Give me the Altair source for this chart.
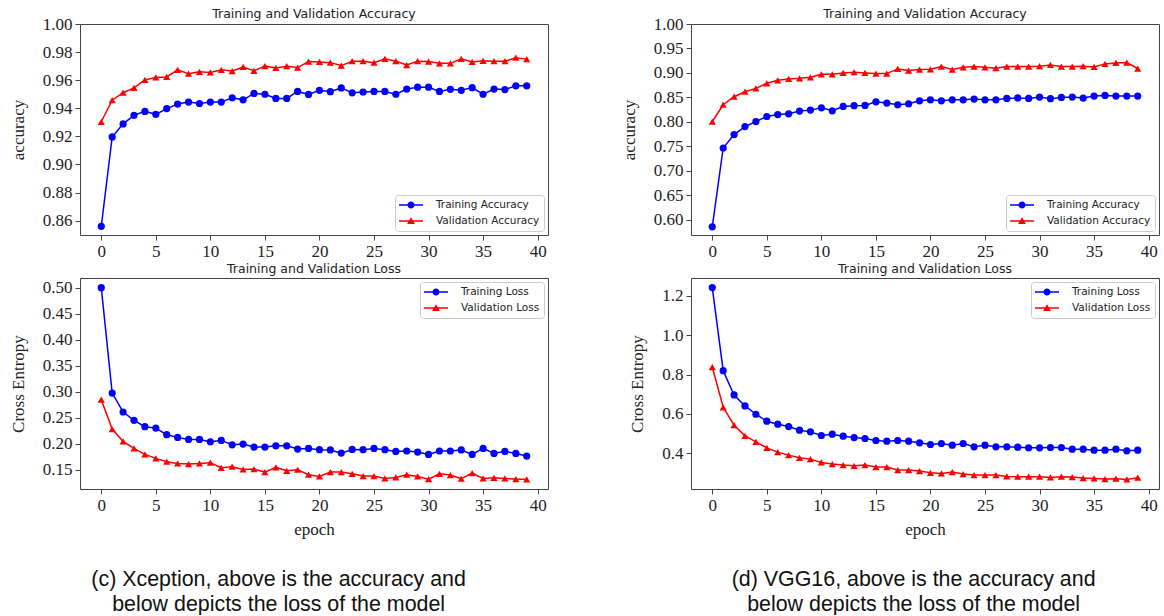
import altair as alt
import pandas as pd

epochs = list(range(40))

xc_train_acc = [0.856, 0.9196, 0.9289, 0.935, 0.9378, 0.9357, 0.9398, 0.943, 0.9444, 0.9434,
                0.9444, 0.9444, 0.9475, 0.946, 0.9506, 0.950, 0.947, 0.947, 0.952, 0.9499,
                0.9528, 0.9518, 0.9545, 0.951, 0.9516, 0.952, 0.952, 0.950, 0.9537, 0.955,
                0.955, 0.952, 0.9535, 0.9528, 0.9547, 0.950, 0.9537, 0.9533, 0.956, 0.956]
xc_val_acc = [0.9304, 0.9458, 0.9511, 0.9545, 0.9602, 0.962, 0.9623, 0.9674, 0.9646, 0.966,
              0.9655, 0.9674, 0.9665, 0.9694, 0.9667, 0.970, 0.9687, 0.970, 0.969, 0.9733,
              0.973, 0.9725, 0.9704, 0.9735, 0.9735, 0.9725, 0.9752, 0.9735, 0.9708, 0.9735,
              0.9733, 0.972, 0.972, 0.9752, 0.973, 0.9738, 0.9735, 0.9735, 0.976, 0.975]
xc_train_loss = [0.50, 0.2974, 0.261, 0.2449, 0.2327, 0.230, 0.2173, 0.2122, 0.2083, 0.2083,
                 0.2038, 0.2064, 0.198, 0.1994, 0.1936, 0.1936, 0.196, 0.196, 0.1897, 0.191,
                 0.1885, 0.188, 0.182, 0.189, 0.1885, 0.191, 0.1885, 0.1853, 0.186, 0.184,
                 0.1795, 0.186, 0.186, 0.188, 0.1795, 0.191, 0.1814, 0.1853, 0.1814, 0.1763]
xc_val_loss = [0.2846, 0.2282, 0.2045, 0.191, 0.1795, 0.1718, 0.1654, 0.1622, 0.161, 0.1622,
               0.1635, 0.1538, 0.1558, 0.1506, 0.1513, 0.1455, 0.1545, 0.148, 0.150, 0.1404,
               0.1372, 0.1455, 0.1455, 0.1423, 0.1378, 0.1378, 0.1333, 0.1353, 0.1404, 0.1372,
               0.132, 0.1423, 0.1397, 0.1327, 0.1436, 0.1333, 0.1346, 0.1333, 0.132, 0.1314]

vgg_train_acc = [0.5856, 0.7466, 0.774, 0.7904, 0.8007, 0.811, 0.815, 0.8164, 0.822, 0.824,
                 0.8288, 0.8226, 0.8315, 0.833, 0.8336, 0.841, 0.8384, 0.835, 0.837, 0.843,
                 0.845, 0.843, 0.845, 0.845, 0.8466, 0.845, 0.845, 0.848, 0.849, 0.848,
                 0.8507, 0.8473, 0.85, 0.8507, 0.8486, 0.8527, 0.854, 0.8527, 0.8527, 0.8527]
vgg_val_acc = [0.8007, 0.835, 0.8514, 0.8616, 0.8685, 0.8788, 0.885, 0.8877, 0.889, 0.891,
               0.8973, 0.8973, 0.900, 0.9014, 0.900, 0.8986, 0.8986, 0.9082, 0.9048, 0.907,
               0.9075, 0.913, 0.907, 0.9116, 0.913, 0.9116, 0.9096, 0.913, 0.913, 0.913,
               0.9137, 0.9164, 0.913, 0.913, 0.9137, 0.9123, 0.9185, 0.9205, 0.9212, 0.909]
vgg_train_loss = [1.2404, 0.8194, 0.6964, 0.6408, 0.5987, 0.5634, 0.5482, 0.5364, 0.518, 0.5095,
                  0.491, 0.4977, 0.4876, 0.4808, 0.4758, 0.4657, 0.4623, 0.4657, 0.4623, 0.454,
                  0.4455, 0.4505, 0.442, 0.4505, 0.4337, 0.442, 0.4337, 0.4337, 0.432, 0.4286,
                  0.4286, 0.4303, 0.4303, 0.4219, 0.4219, 0.4168, 0.4168, 0.4219, 0.4135, 0.4168]
vgg_val_loss = [0.8379, 0.6341, 0.5432, 0.4893, 0.459, 0.4286, 0.4067, 0.3916, 0.3781, 0.3714,
                0.3545, 0.3461, 0.341, 0.3377, 0.341, 0.3309, 0.3309, 0.3158, 0.3158, 0.3107,
                0.3023, 0.2989, 0.3057, 0.2956, 0.2905, 0.2905, 0.2905, 0.2838, 0.2821, 0.2821,
                0.2821, 0.2787, 0.2821, 0.2804, 0.2754, 0.2737, 0.2703, 0.272, 0.2686, 0.2771]

x_ticks = [0, 5, 10, 15, 20, 25, 30, 35, 40]
caption_c = ["(c) Xception, above is the accuracy and", "below depicts the loss of the model"]
caption_d = ["(d) VGG16, above is the accuracy and", "below depicts the loss of the model"]

BLUE = "#0000ff"
RED = "#ff0000"
SERIF = "Liberation Serif"
SANS = "DejaVu Sans"

# legend symbols: short line with marker (unit box -1..1 scaled by sqrt(size)/2)
LEG_CIRCLE = ("M0.58,0A0.58,0.58 0 1,1 -0.58,0A0.58,0.58 0 1,1 0.58,0Z "
              "M-2,-0.12L2,-0.12L2,0.12L-2,0.12Z")
LEG_TRI = ("M0,-0.62L0.66,0.5L-0.66,0.5Z "
           "M-2,-0.12L2,-0.12L2,0.12L-2,0.12Z")

W, H = 468, 211


def panel(train, val, names, ydom, yticks, yfmt, ytitle, title, legend_orient, show_xtitle,
          title_offset):
    df = pd.DataFrame({
        "epoch": epochs + epochs,
        "value": train + val,
        "series": [names[0]] * len(train) + [names[1]] * len(val),
    })
    xscale = alt.Scale(domain=[-1.95, 40.95], nice=False, zero=False)
    xaxis = alt.Axis(values=x_ticks, format="d")
    if show_xtitle:
        x = alt.X("epoch:Q", title="epoch", scale=xscale, axis=xaxis)
    else:
        x = alt.X("epoch:Q", title=None, scale=xscale, axis=xaxis)
    y = alt.Y("value:Q", title=ytitle,
              scale=alt.Scale(domain=ydom, nice=False, zero=False),
              axis=alt.Axis(values=yticks, format=yfmt))
    cscale = alt.Scale(domain=names, range=[BLUE, RED])
    leg = alt.Legend(title=None, orient=legend_orient, offset=4,
                     fillColor="white", strokeColor="#cccccc", cornerRadius=3,
                     padding=4, rowPadding=4, symbolSize=144, symbolOffset=6,
                     labelOffset=19, symbolOpacity=1, symbolStrokeWidth=0,
                     labelFont=SANS, labelFontSize=10.5, labelColor="#222222")
    legend_layer = alt.Chart(df).mark_point(filled=True, opacity=0, size=1).encode(
        x=x, y=y,
        color=alt.Color("series:N", scale=cscale, legend=leg),
        shape=alt.Shape("series:N", scale=alt.Scale(domain=names, range=[LEG_CIRCLE, LEG_TRI]),
                        legend=leg),
    )
    lines = alt.Chart(df).mark_line(strokeWidth=1.5).encode(
        x=x, y=y, color=alt.Color("series:N", scale=cscale, legend=None))
    pts_train = alt.Chart(df).transform_filter(alt.datum.series == names[0]).mark_point(
        filled=True, shape="circle", size=52, opacity=1).encode(
        x=x, y=y, color=alt.Color("series:N", scale=cscale, legend=None))
    pts_val = alt.Chart(df).transform_filter(alt.datum.series == names[1]).mark_point(
        filled=True, shape="triangle-up", size=52, opacity=1).encode(
        x=x, y=y, color=alt.Color("series:N", scale=cscale, legend=None))
    return alt.layer(legend_layer, lines, pts_train, pts_val).properties(
        width=W, height=H,
        title=alt.TitleParams(title, font=SANS, fontSize=12.5, fontWeight="normal",
                              color="#222222", offset=title_offset, anchor="middle",
                              frame="group"),
    )


acc_names = ["Training Accuracy", "Validation Accuracy"]
loss_names = ["Training Loss", "Validation Loss"]

p1 = panel(xc_train_acc, xc_val_acc, acc_names, [0.8498, 1.0],
           [0.86, 0.88, 0.90, 0.92, 0.94, 0.96, 0.98, 1.00], ".2f", "accuracy",
           "Training and Validation Accuracy", "bottom-right", False, -5)
p2 = panel(xc_train_loss, xc_val_loss, loss_names, [0.1130, 0.5185],
           [0.15, 0.20, 0.25, 0.30, 0.35, 0.40, 0.45, 0.50], ".2f", "Cross Entropy",
           "Training and Validation Loss", "top-right", True, 3)
p3 = panel(vgg_train_acc, vgg_val_acc, acc_names, [0.5688, 1.0],
           [0.60, 0.65, 0.70, 0.75, 0.80, 0.85, 0.90, 0.95, 1.00], ".2f", "accuracy",
           "Training and Validation Accuracy", "bottom-right", False, -5)
p4 = panel(vgg_train_loss, vgg_val_loss, loss_names, [0.22, 1.289],
           [0.4, 0.6, 0.8, 1.0, 1.2], ".1f", "Cross Entropy",
           "Training and Validation Loss", "top-right", True, 3)


def column(a, b, caption, dx):
    return alt.vconcat(a, b, spacing=43, bounds="flush").resolve_scale(
        color="independent", shape="independent").resolve_legend(
        color="independent", shape="independent").properties(
        title=alt.TitleParams(caption, orient="bottom", anchor="middle",
                              font="Liberation Sans", fontSize=21.4, fontWeight="normal",
                              lineHeight=25, color="#111111", offset=31, dx=dx))


left = column(p1, p2, caption_c, 0)
right = column(p3, p4, caption_d, 24)

chart = alt.hconcat(left, right, spacing=70).resolve_scale(
    color="independent", shape="independent").resolve_legend(
    color="independent", shape="independent").properties(
    padding={"left": 8, "top": 7, "right": 0, "bottom": 0},
    background="white",
).configure_view(
    stroke="#444444", strokeWidth=1
).configure_axis(
    domain=False, grid=False, ticks=True, tickSize=5, tickColor="#444444", tickWidth=1,
    labelFont=SERIF, labelFontSize=17, labelColor="#222222", labelPadding=3,
    titleFont=SERIF, titleFontSize=17, titleFontWeight="normal", titleColor="#222222",
).configure_axisY(
    titlePadding=15
).configure_axisX(
    titlePadding=8
)

chart.save("out.html", embed_options={"renderer": "svg", "actions": False})
